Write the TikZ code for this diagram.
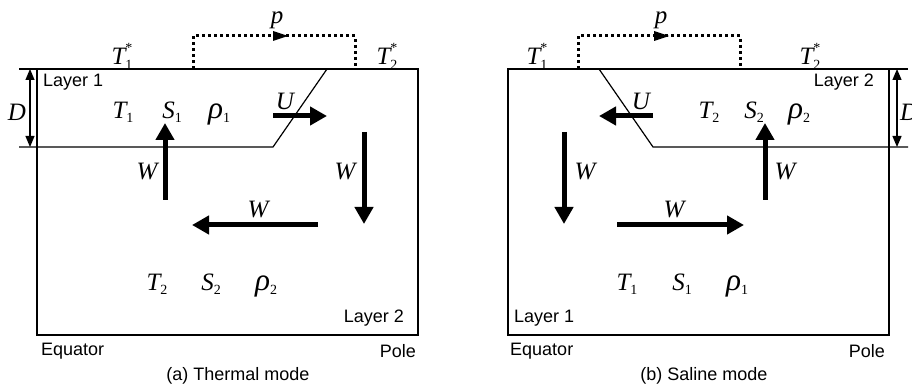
\documentclass[tikz,border=0pt]{standalone}
\usepackage{fontspec}
\usepackage{graphicx}
\setmainfont{Liberation Sans}
\newfontfamily\serfam{Liberation Serif}
\usetikzlibrary{arrows.meta}
\newcommand\bigmath{\fontsize{25}{25}\selectfont\serfam\itshape}
\newcommand\smallmath{\fontsize{14}{14}\selectfont\serfam\upshape}
\newcommand\mvar[2]{{\bigmath #1}\raisebox{-4pt}{\smallmath #2}}
\newcommand\mrho[1]{\scalebox{1.25}{\bigmath ρ}\raisebox{-4pt}{\smallmath #1}}
\newcommand\mvarst[2]{{\bigmath #1}\rlap{\raisebox{12pt}{\smallmath *}}\raisebox{-5pt}{\smallmath #2}}
\tikzset{
  frame/.style={line width=1.8pt},
  thin/.style={line width=1.2pt},
  fat/.style={line width=5pt,-{Triangle[length=17pt,width=18pt]}},
  dim/.style={line width=1.2pt,{Triangle[length=11pt,width=9pt]}-{Triangle[length=11pt,width=9pt]}},
  dots/.style={line width=3pt,dash pattern=on 3pt off 3pt},
  lbl/.style={inner sep=0pt,font=\fontsize{18}{18}\selectfont},
  sym/.style={inner sep=0pt},
}
\begin{document}
\begin{tikzpicture}[x=1pt,y=-1pt]
\useasboundingbox (0,0) rectangle (912,387);
% ================= (a) Thermal mode =================
\draw[frame] (19,69) -- (418,69) -- (418,335) -- (37,335) -- (37,69);
\draw[thin] (19,147) -- (273,147) -- (327,69);
\draw[dim] (30,69) -- (30,147);
\node[sym] (Da) at (17,112) {\bigmath D};
\draw[dots] (193,69) -- (193,36) -- (355,36) -- (355,69);
\fill (273,31) -- (288,36) -- (273,41) -- cycle;
\node[sym] (pa) at (277,20) {\bigmath p};
\node[sym] (T1sa) at (122,56) {\mvarst{T}{1}};
\node[sym] (T2sa) at (387,56) {\mvarst{T}{2}};
\node[lbl,anchor=west] (L1a) at (43,82) {Layer 1};
\node[sym] (T1a) at (123,112) {\mvar{T}{1}};
\node[sym] (S1a) at (172,112) {\mvar{S}{1}};
\node[sym] (r1a) at (219,114) {\mrho{1}};
\node[sym] (Ua) at (285,101) {\bigmath U};
\draw[fat] (273,116) -- (327,116);
\draw[fat] (165,200) -- (165,123);
\node[sym] (Wa1) at (147,172) {\bigmath W};
\draw[fat] (364,132) -- (364,224);
\node[sym] (Wa2) at (345,172) {\bigmath W};
\draw[fat] (318,225) -- (192,225);
\node[sym] (Wa3) at (258,210) {\bigmath W};
\node[sym] (T2a) at (157,284) {\mvar{T}{2}};
\node[sym] (S2a) at (211,284) {\mvar{S}{2}};
\node[sym] (r2a) at (266,286) {\mrho{2}};
\node[lbl,anchor=east] (L2a) at (404,318) {Layer 2};
\node[lbl,anchor=west] (Eqa) at (41,351) {Equator};
\node[lbl,anchor=east] (Poa) at (416,351) {Pole};
\node[lbl] (capa) at (238,376) {(a) Thermal mode};
% ================= (b) Saline mode =================
\draw[frame] (908,69) -- (508,69) -- (508,335) -- (889,335) -- (889,69);
\draw[thin] (908,147) -- (653,147) -- (599,69);
\draw[dim] (897,69) -- (897,147);
\node[sym,anchor=west] (Db) at (900,112) {\bigmath D};
\draw[dots] (578,69) -- (578,36) -- (740,36) -- (740,69);
\fill (654,31) -- (669,36) -- (654,41) -- cycle;
\node[sym] (pb) at (661,20) {\bigmath p};
\node[sym] (T1sb) at (537,56) {\mvarst{T}{1}};
\node[sym] (T2sb) at (810,56) {\mvarst{T}{2}};
\node[lbl,anchor=east] (L2b) at (874,82) {Layer 2};
\node[sym] (Ub) at (641,101) {\bigmath U};
\draw[fat] (653,116) -- (599,116);
\node[sym] (T2b) at (709,112) {\mvar{T}{2}};
\node[sym] (S2b) at (754,112) {\mvar{S}{2}};
\node[sym] (r2b) at (799,114) {\mrho{2}};
\draw[fat] (765,200) -- (765,123);
\node[sym] (Wb1) at (785,172) {\bigmath W};
\draw[fat] (564,132) -- (564,224);
\node[sym] (Wb2) at (585,172) {\bigmath W};
\draw[fat] (617,225) -- (744,225);
\node[sym] (Wb3) at (674,210) {\bigmath W};
\node[sym] (T1b) at (627,284) {\mvar{T}{1}};
\node[sym] (S1b) at (682,284) {\mvar{S}{1}};
\node[sym] (r1b) at (737,286) {\mrho{1}};
\node[lbl,anchor=west] (L1b) at (514,318) {Layer 1};
\node[lbl,anchor=west] (Eqb) at (510,351) {Equator};
\node[lbl,anchor=east] (Pob) at (885,351) {Pole};
\node[lbl] (capb) at (704,376) {(b) Saline mode};
\end{tikzpicture}
\end{document}
